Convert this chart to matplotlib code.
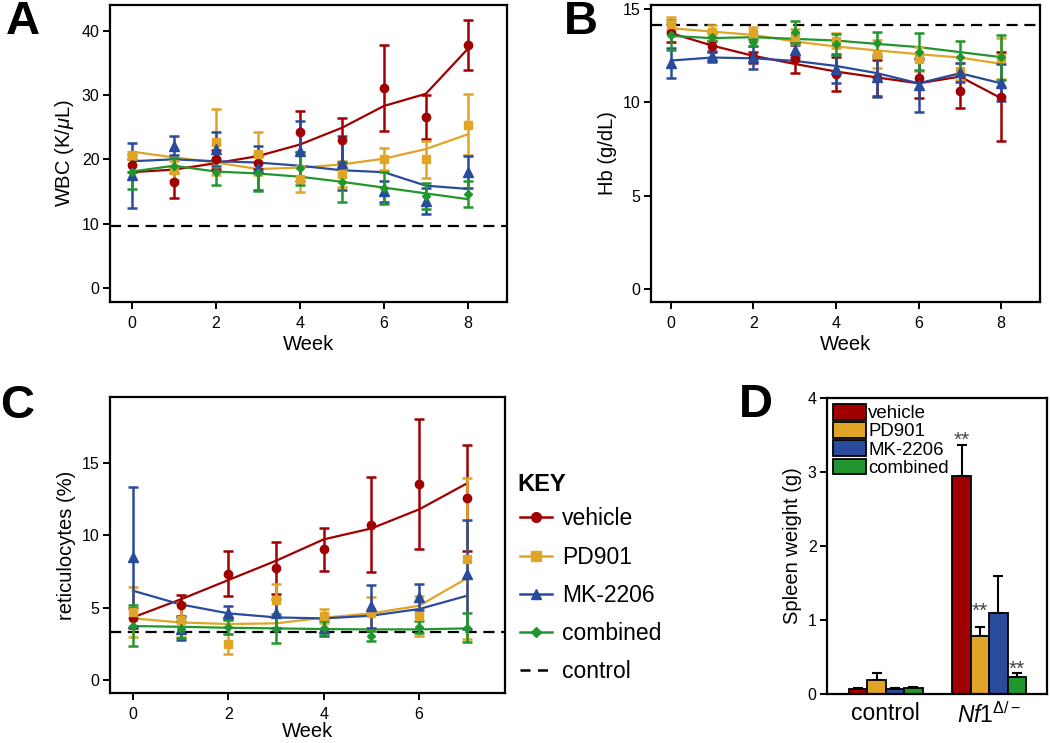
import numpy as np
import matplotlib
matplotlib.use('Agg')
import matplotlib.pyplot as plt
from matplotlib.lines import Line2D

plt.rcParams['font.family'] = ['Liberation Sans', 'DejaVu Sans']
plt.rcParams['mathtext.fontset'] = 'custom'
plt.rcParams['mathtext.rm'] = 'Liberation Sans'
plt.rcParams['mathtext.it'] = 'Liberation Sans:italic'

groups = ['vehicle', 'PD901', 'MK-2206', 'combined']
colors = ['#a00000', '#e0a526', '#2a4b9b', '#22962e']
markers = ['o', 's', '^', 'D']
marker_sizes = [6, 6, 6.5, 4]

weeks_ab = [0, 1, 2, 3, 4, 5, 6, 7, 8]
weeks_c = [0, 1, 2, 3, 4, 5, 6, 7]

# WBC (K/uL), rows follow groups
wbc_mean = [[19.1, 16.4, 20.0, 19.5, 24.3, 23.0, 31.1, 26.6, 37.8],
            [20.6, 18.3, 22.7, 20.9, 16.9, 17.7, 20.0, 20.0, 25.4],
            [17.5, 22.1, 21.6, 18.6, 21.3, 19.5, 15.0, 13.5, 18.0],
            [18.0, 19.0, 18.0, 17.9, 18.6, 16.5, 15.5, 14.3, 14.6]]
wbc_err = [[1.0, 2.4, 1.5, 1.0, 3.2, 3.4, 6.7, 3.4, 3.9],
           [0.6, 1.5, 5.1, 3.3, 2.0, 2.0, 1.7, 2.9, 4.8],
           [5.0, 1.5, 2.6, 3.4, 4.7, 4.2, 1.6, 2.0, 2.5],
           [2.6, 1.2, 2.0, 2.8, 2.6, 3.1, 2.5, 2.0, 2.0]]
wbc_fit = [[18.0, 18.4, 19.4, 20.5, 22.3, 24.9, 28.3, 30.2, 37.2],
           [21.2, 20.3, 19.5, 18.5, 18.7, 19.2, 20.1, 21.6, 23.9],
           [19.7, 20.0, 19.7, 19.5, 19.0, 18.3, 18.0, 15.9, 15.4],
           [18.1, 19.0, 18.1, 17.8, 17.3, 16.5, 15.6, 14.7, 13.8]]
wbc_control = 9.7

# Hb (g/dL)
hb_mean = [[13.7, 13.0, 12.4, 12.3, 11.5, 11.3, 11.3, 10.6, 10.3],
           [14.2, 13.75, 13.7, 13.5, 13.3, 12.6, 12.3, 11.65, 12.35],
           [12.1, 12.45, 12.4, 12.8, 11.8, 11.35, 10.9, 11.6, 11.05],
           [13.6, 13.5, 13.2, 13.75, 13.1, 13.15, 12.7, 12.4, 12.4]]
hb_err = [[0.5, 0.3, 0.3, 0.75, 0.9, 0.95, 1.05, 0.9, 2.4],
          [0.35, 0.4, 0.35, 0.4, 0.4, 0.75, 0.65, 0.45, 1.1],
          [0.8, 0.3, 0.6, 0.4, 0.8, 1.05, 1.4, 0.5, 1.0],
          [0.8, 0.2, 0.2, 0.6, 0.55, 0.6, 1.0, 0.9, 1.2]]
hb_fit = [[13.7, 13.03, 12.48, 12.05, 11.64, 11.32, 11.01, 11.37, 10.21],
          [13.96, 13.78, 13.6, 13.25, 12.98, 12.77, 12.57, 12.39, 12.05],
          [12.23, 12.39, 12.35, 12.21, 11.94, 11.55, 11.01, 11.55, 11.01],
          [13.55, 13.43, 13.48, 13.39, 13.3, 13.12, 12.95, 12.68, 12.41]]
hb_control = 14.15

# reticulocytes (%)
retic_mean = [[4.3, 5.15, 7.35, 7.75, 9.05, 10.75, 13.55, 12.6],
              [4.7, 4.15, 2.45, 5.55, 4.4, 4.6, 4.4, 8.4],
              [8.5, 3.55, 4.65, 4.6, 3.6, 5.1, 5.75, 7.3],
              [3.75, 3.5, 3.65, 3.55, 3.6, 3.05, 3.65, 3.6]]
retic_err = [[0.7, 0.75, 1.55, 1.8, 1.5, 3.3, 4.5, 3.7],
             [1.75, 1.2, 0.7, 1.1, 0.5, 1.1, 1.4, 5.6],
             [4.85, 0.8, 0.45, 1.0, 0.6, 1.5, 0.9, 3.8],
             [1.4, 0.6, 0.5, 1.0, 0.5, 0.35, 0.4, 1.0]]
retic_fit = [[4.32, 5.57, 6.91, 8.25, 9.73, 10.49, 11.81, 13.61],
             [4.25, 3.97, 3.86, 3.91, 4.3, 4.6, 5.13, 7.03],
             [6.17, 5.22, 4.6, 4.32, 4.25, 4.44, 4.9, 5.82],
             [3.72, 3.67, 3.6, 3.56, 3.51, 3.49, 3.49, 3.56]]
retic_control = 3.3

# spleen weight (g)
spleen_cats = ['control', r'$\mathit{Nf1}^{\mathit{\Delta/-}}$']
spleen_mean = [[0.07, 2.95], [0.19, 0.78], [0.07, 1.09], [0.08, 0.23]]
spleen_err = [[0.01, 0.42], [0.10, 0.13], [0.01, 0.51], [0.01, 0.06]]
spleen_stars = [['', '**'], ['', '**'], ['', ''], ['', '**']]
spleen_star_y = [[0, 3.30], [0, 0.99], [0, 0], [0, 0.20]]


def style_axes(ax):
    for s in ax.spines.values():
        s.set_linewidth(1.6)
    ax.tick_params(direction='out', length=5, width=1.4, labelsize=11.5)
    ax.tick_params(axis='x', pad=5)
    ax.tick_params(axis='y', pad=2.5)


def line_panel(ax, weeks, means, errs, fits, control, ylabel):
    for i in range(len(groups)):
        ax.plot(weeks, fits[i], color=colors[i], lw=1.6, zorder=2)
        ax.errorbar(weeks, means[i], yerr=errs[i], fmt=markers[i], color=colors[i],
                    ms=marker_sizes[i], capsize=3.5, elinewidth=1.8, capthick=1.8,
                    zorder=3)
    ax.axhline(control, color='k', lw=1.6, ls=(0, (5, 3)), zorder=1)
    ax.set_xlabel('Week', fontsize=14.5, labelpad=3)
    ax.set_ylabel(ylabel, fontsize=14.5)
    style_axes(ax)


fig = plt.figure(figsize=(10.5, 7.43), dpi=100)

axA = fig.add_axes([0.1048, 0.5935, 0.378, 0.3997])
line_panel(axA, weeks_ab, wbc_mean, wbc_err, wbc_fit, wbc_control, r'WBC (K/$\mathit{\mu}$L)')
axA.set_xlim(-0.52, 8.93)
axA.set_ylim(-2.2, 44)
axA.set_xticks([0, 2, 4, 6, 8])
axA.set_yticks([0, 10, 20, 30, 40])

axB = fig.add_axes([0.62, 0.5935, 0.3705, 0.3997])
line_panel(axB, weeks_ab, hb_mean, hb_err, hb_fit, hb_control, 'Hb (g/dL)')
axB.set_xlim(-0.48, 8.94)
axB.set_ylim(-0.7, 15.2)
axB.set_xticks([0, 2, 4, 6, 8])
axB.set_yticks([0, 5, 10, 15])

axC = fig.add_axes([0.1048, 0.0673, 0.3762, 0.3984])
line_panel(axC, weeks_c, retic_mean, retic_err, retic_fit, retic_control, 'reticulocytes (%)')
axC.set_xlim(-0.48, 7.8)
axC.set_ylim(-0.92, 19.6)
axC.set_xticks([0, 2, 4, 6])
axC.set_yticks([0, 5, 10, 15])
axC.xaxis.labelpad = 0

# KEY legend
fig.text(0.4924, 0.3475, 'KEY', fontsize=17, fontweight='bold', va='center', ha='left')
key_handles = [Line2D([], [], color=colors[i], marker=markers[i], ms=marker_sizes[i] + 1, lw=1.8)
               for i in range(len(groups))]
key_handles.append(Line2D([], [], color='k', lw=1.8, ls=(0, (4, 3))))
key = fig.legend(key_handles, groups + ['control'], loc='upper left',
                 bbox_to_anchor=(0.495, 0.317), frameon=False, fontsize=16.5,
                 handlelength=1.4, handletextpad=0.45, labelspacing=0.66,
                 borderpad=0, borderaxespad=0)

# Spleen bars
axD = fig.add_axes([0.7876, 0.066, 0.2095, 0.398])
x = np.arange(len(spleen_cats))
w = 0.178
for i in range(len(groups)):
    pos = x + (i - 1.5) * w
    axD.bar(pos, spleen_mean[i], width=w, color=colors[i], edgecolor='k', lw=1.3,
            label=groups[i], zorder=2)
    axD.errorbar(pos, spleen_mean[i], yerr=[np.zeros(len(x)), spleen_err[i]],
                 fmt='none', ecolor='k', elinewidth=1.5, capsize=3.5, capthick=1.5, zorder=1)
    for j in range(len(x)):
        if spleen_stars[i][j]:
            axD.text(pos[j], spleen_star_y[i][j], spleen_stars[i][j],
                     ha='center', va='bottom', fontsize=15, color='#444444')
axD.set_xlim(-0.57, 1.56)
axD.set_ylim(0, 4)
axD.set_yticks([0, 1, 2, 3, 4])
axD.set_xticks(x)
axD.set_xticklabels(spleen_cats)
axD.set_ylabel('Spleen weight (g)', fontsize=14.5)
style_axes(axD)
axD.tick_params(axis='x', length=0, labelsize=16.5, pad=6)
axD.legend(loc='upper left', bbox_to_anchor=(0.027, 0.98), frameon=False, fontsize=13.4,
           handlelength=1.77, handleheight=0.9, labelspacing=0.0, handletextpad=0.12,
           borderaxespad=0, borderpad=0)

# panel letters
for lab, xx, yy in [('A', 0.006, 1.0), ('B', 0.537, 1.0), ('C', 0.0, 0.483), ('D', 0.704, 0.4845)]:
    fig.text(xx, yy, lab, fontsize=34, fontweight='bold', va='top', ha='left')

fig.savefig('out.png', dpi=100)
